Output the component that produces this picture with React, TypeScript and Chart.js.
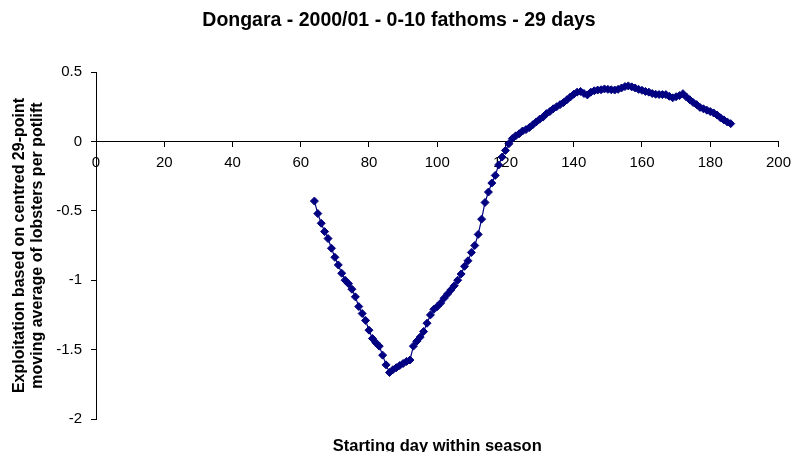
import React, { useEffect, useRef } from "react";
import { Chart, registerables } from "chart.js";

Chart.register(...registerables);

const TITLE = "Dongara - 2000/01 - 0-10 fathoms - 29 days";
const X_TITLE = "Starting day within season";
const Y_TITLE = [
  "Exploitation based on centred 29-point",
  "moving average of lobsters per potlift",
];

const days = [
  64, 65, 66, 67, 68, 69, 70, 71, 72, 73, 74, 75, 76, 77, 78, 79, 80, 81, 82, 83,
  84, 85, 86, 87, 88, 89, 90, 91, 92, 93, 94, 95, 96, 97, 98, 99, 100, 101, 102,
  103, 104, 105, 106, 107, 108, 109, 110, 111, 112, 113, 114, 115, 116, 117, 118,
  119, 120, 121, 122, 123, 124, 125, 126, 127, 128, 129, 130, 131, 132, 133, 134,
  135, 136, 137, 138, 139, 140, 141, 142, 143, 144, 145, 146, 147, 148, 149, 150,
  151, 152, 153, 154, 155, 156, 157, 158, 159, 160, 161, 162, 163, 164, 165, 166,
  167, 168, 169, 170, 171, 172, 173, 174, 175, 176, 177, 178, 179, 180, 181, 182,
  183, 184, 185, 186,
];

const exploitation = [
  -0.43, -0.52, -0.59, -0.65, -0.70, -0.77, -0.835, -0.89, -0.95, -1.0, -1.025,
  -1.065, -1.12, -1.19, -1.24, -1.29, -1.36, -1.42, -1.45, -1.475, -1.54, -1.61,
  -1.665,
  -1.645, -1.63, -1.615, -1.6, -1.585, -1.575, -1.475, -1.44, -1.41, -1.37, -1.31,
  -1.25, -1.21, -1.19, -1.165, -1.13, -1.1, -1.07, -1.04, -1.0, -0.955, -0.9,
  -0.86, -0.8, -0.75,
  -0.67, -0.56, -0.44, -0.365, -0.3, -0.245, -0.17, -0.113, -0.065, -0.017, 0.02,
  0.04, 0.055,
  0.075, 0.085, 0.1, 0.12, 0.14, 0.16, 0.175, 0.2, 0.215, 0.235, 0.25, 0.265,
  0.28, 0.3, 0.32, 0.34, 0.355, 0.36, 0.345, 0.335, 0.355, 0.365, 0.37, 0.372,
  0.378, 0.375, 0.372, 0.37, 0.375, 0.385, 0.395, 0.4, 0.393, 0.385, 0.375,
  0.368, 0.36, 0.355, 0.345, 0.34, 0.338, 0.337, 0.337, 0.325, 0.314, 0.322,
  0.33, 0.344, 0.32, 0.3, 0.28, 0.265, 0.245, 0.235, 0.225, 0.215, 0.205, 0.19,
  0.17, 0.155, 0.14, 0.128,
];

const X_MIN = 0;
const X_MAX = 200;
const X_STEP = 20;
const Y_MIN = -2;
const Y_MAX = 0.5;
const Y_STEP = 0.5;

const FONT = '"Liberation Sans", Arial, sans-serif';

export default function App() {
  const ref = useRef<HTMLCanvasElement>(null);

  useEffect(() => {
    if (!ref.current) return;
    const chart = new Chart(ref.current, {
      type: "line",
      data: {
        datasets: [
          {
            data: days.map((d, i) => ({ x: d, y: exploitation[i] })),
            borderColor: "#000080",
            backgroundColor: "#000080",
            borderWidth: 1.2,
            pointStyle: "rectRot",
            pointRadius: 4,
            pointHoverRadius: 4,
            pointBorderWidth: 1,
            pointBorderColor: "#000080",
            pointBackgroundColor: "#000080",
            tension: 0,
            fill: false,
          },
        ],
      },
      options: {
        responsive: false,
        animation: false,
        devicePixelRatio: 1,
        events: [],
        layout: { padding: { left: 0, right: 0, top: 0, bottom: 0 } },
        plugins: {
          legend: { display: false },
          tooltip: { enabled: false },
          title: {
            display: true,
            text: TITLE,
            color: "#000",
            font: { family: FONT, size: 19.5, weight: "bold" },
            padding: { top: 9, bottom: 39.6 },
          },
          subtitle: {
            display: true,
            position: "bottom",
            fullSize: false,
            text: X_TITLE,
            color: "#000",
            font: { family: FONT, size: 16.5, weight: "bold" },
            padding: { top: 17.6, bottom: 3.6 },
          },
        },
        scales: {
          x: {
            type: "linear",
            position: { y: 0 },
            min: X_MIN,
            max: X_MAX,
            ticks: {
              stepSize: X_STEP,
              color: "#000",
              font: { family: FONT, size: 15 },
              padding: 7,
              maxRotation: 0,
            },
            grid: {
              display: true,
              drawOnChartArea: false,
              drawTicks: true,
              tickLength: 5,
              color: "#000",
              tickColor: "#000",
              tickWidth: 1,
            },
            border: { display: true, color: "#000", width: 1 },
            afterFit: (s: any) => {
              s.height = 0;
            },
          },
          y: {
            type: "linear",
            position: "left",
            min: Y_MIN,
            max: Y_MAX,
            ticks: {
              stepSize: Y_STEP,
              color: "#000",
              font: { family: FONT, size: 15 },
              padding: 9,
              callback: (v: any) => String(v),
            },
            grid: {
              display: true,
              drawOnChartArea: false,
              drawTicks: true,
              tickLength: 5,
              color: "#000",
              tickColor: "#000",
              tickWidth: 1,
            },
            border: { display: true, color: "#000", width: 1 },
            title: {
              display: true,
              text: Y_TITLE,
              color: "#000",
              font: { family: FONT, size: 16, weight: "bold", lineHeight: 1.15 },
              padding: { top: 10, bottom: 0 },
            },
            afterFit: (s: any) => {
              s.width = 96;
            },
          },
          spacer: {
            type: "linear",
            position: "right",
            display: true,
            ticks: { display: false },
            grid: { display: false, drawTicks: false },
            border: { display: false },
            afterFit: (s: any) => {
              s.width = 17;
            },
          },
        },
      },
    });
    return () => chart.destroy();
  }, []);

  return (
    <div style={{ position: "absolute", left: 0, top: 0, width: 798, height: 460 }}>
      <canvas ref={ref} width={798} height={460} style={{ display: "block" }} />
    </div>
  );
}
